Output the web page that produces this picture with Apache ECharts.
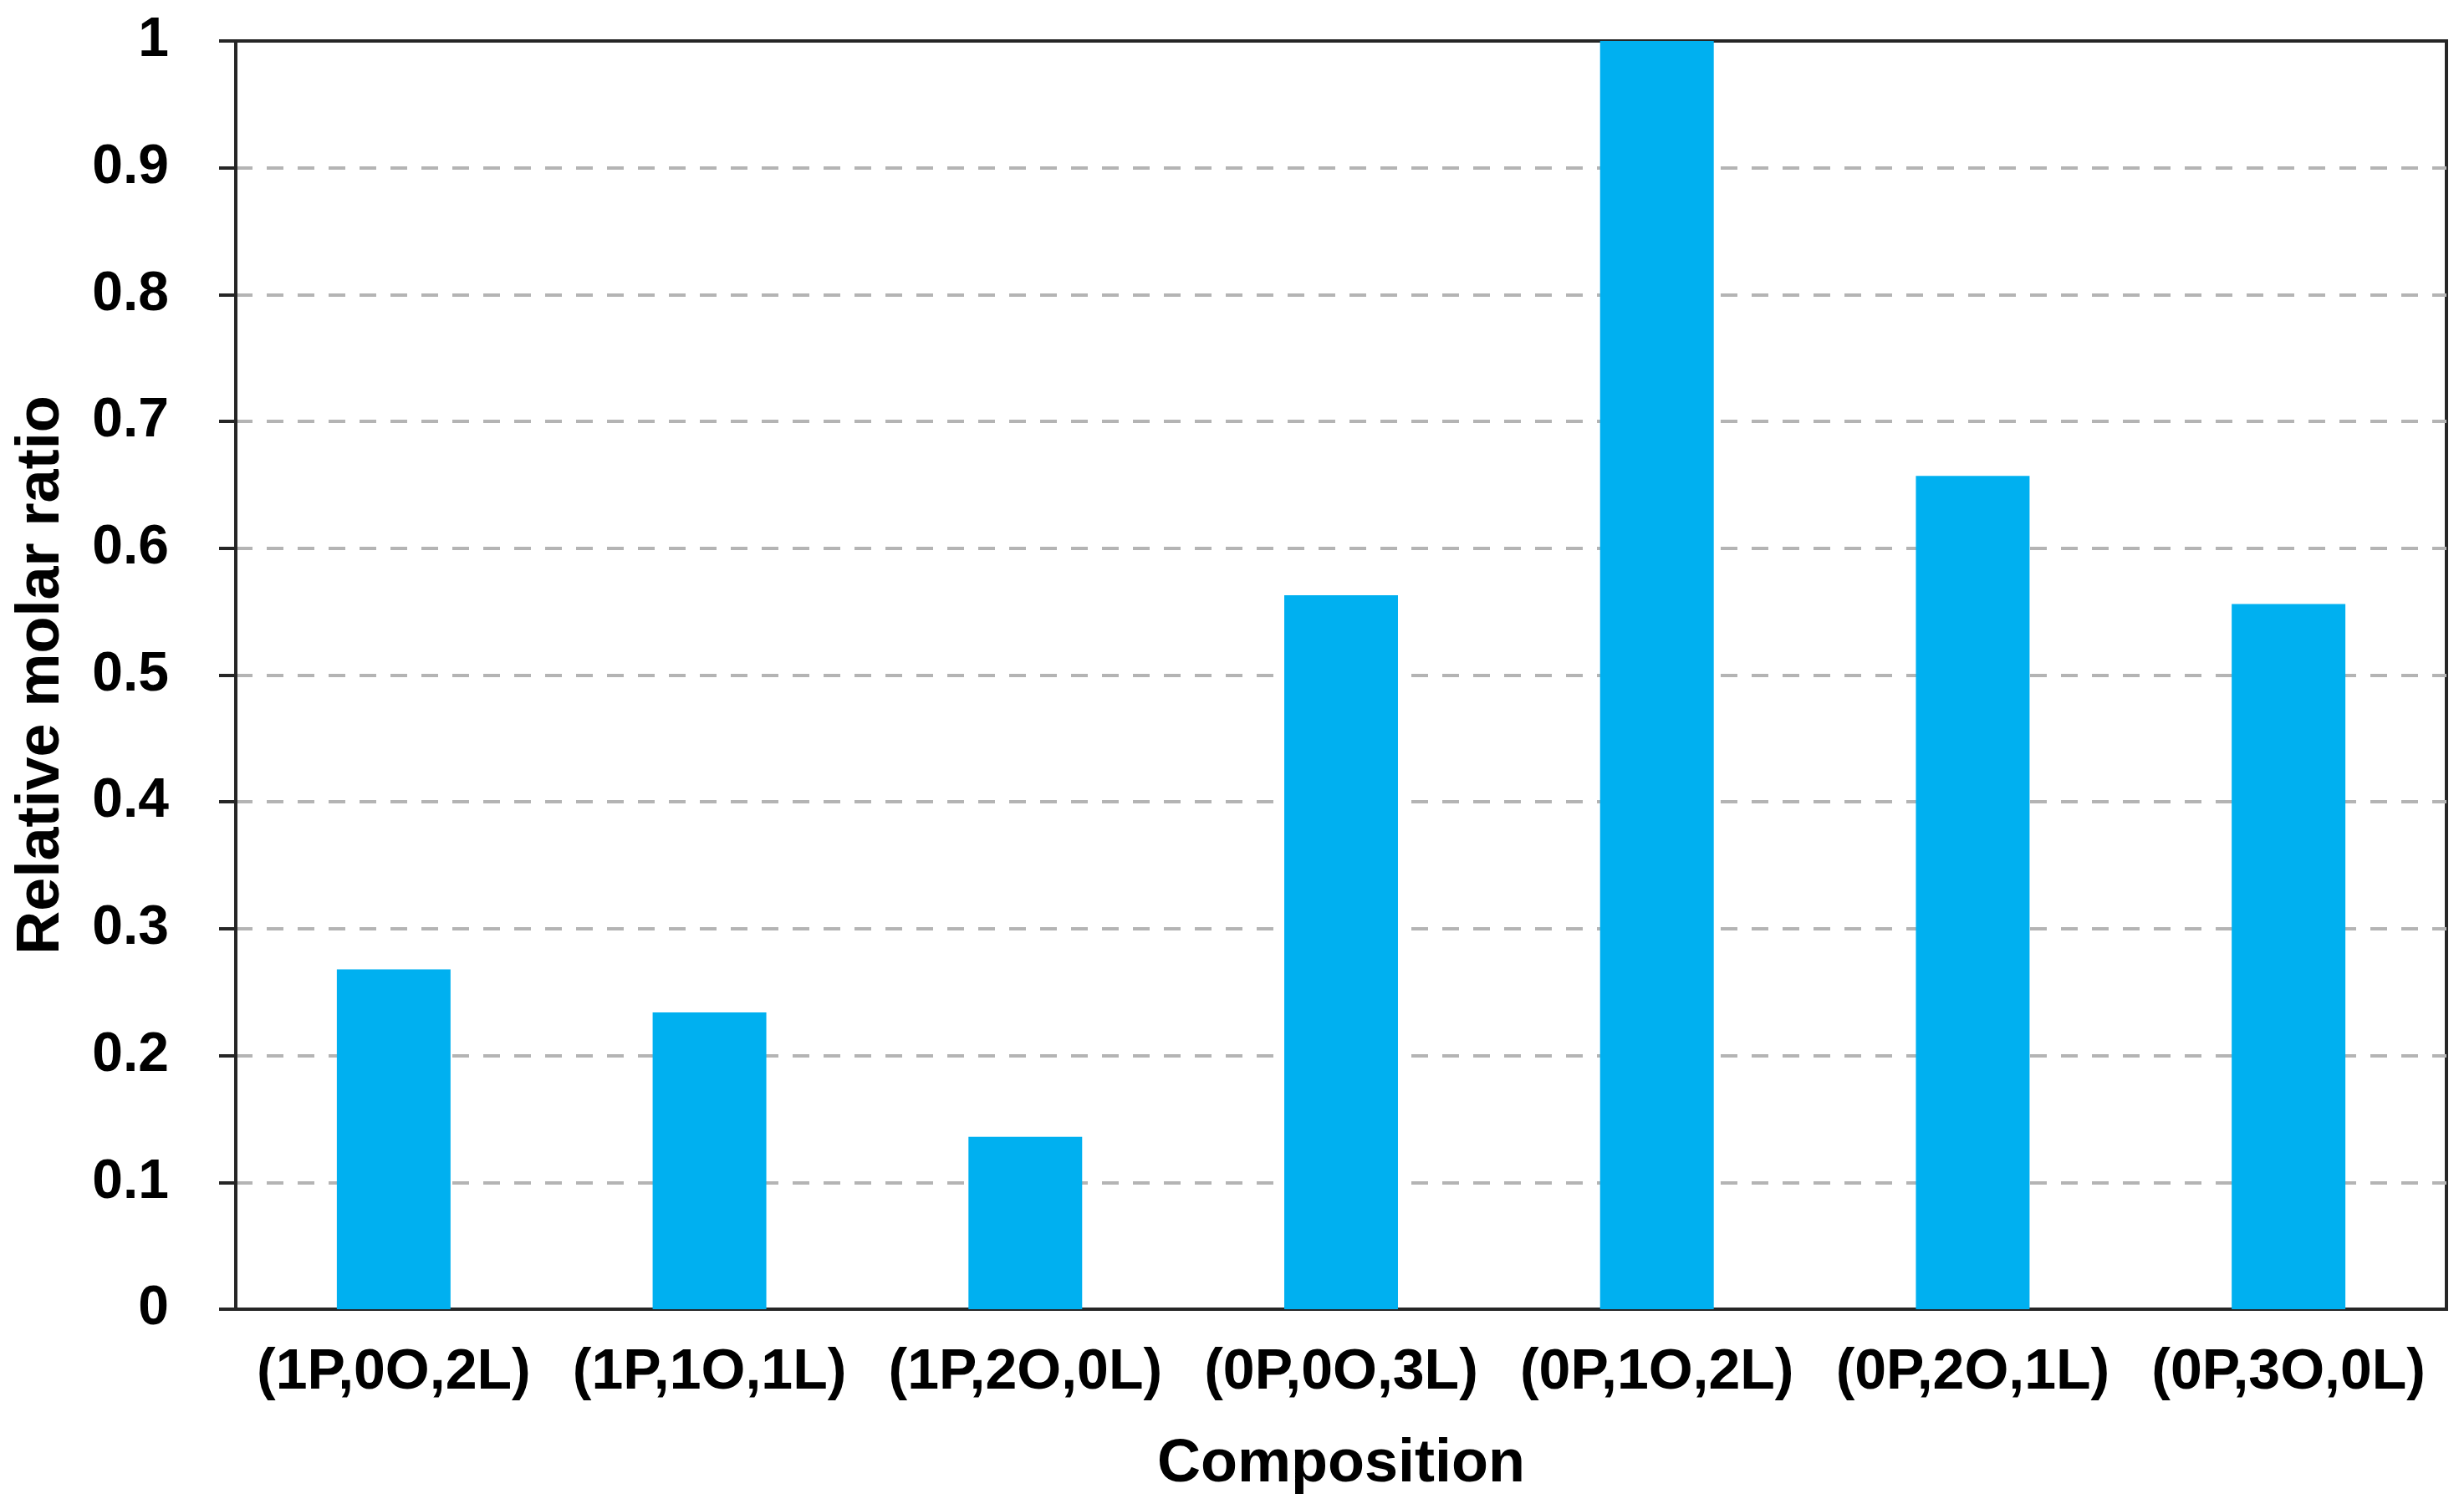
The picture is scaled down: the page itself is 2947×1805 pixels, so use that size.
<!DOCTYPE html>
<html>
<head>
<meta charset="utf-8">
<style>
  html, body { margin: 0; padding: 0; background: #fff; }
  #main { width: 2947px; height: 1805px; }
</style>
<script src="https://cdn.jsdelivr.net/npm/echarts@6/dist/echarts.min.js"></script>
</head>
<body>
<div id="main"></div>
<script>
// categories on the x axis
var categories = ['(1P,0O,2L)', '(1P,1O,1L)', '(1P,2O,0L)', '(0P,0O,3L)', '(0P,1O,2L)', '(0P,2O,1L)', '(0P,3O,0L)'];
// relative molar ratio
var ratios = [0.268, 0.234, 0.136, 0.563, 1.0, 0.657, 0.556];

var font = '"Liberation Sans", Arial, sans-serif';
var myChart = echarts.init(document.getElementById('main'));

var option = {
    backgroundColor: '#ffffff',
    animation: false,
    grid: {
        left: 282,
        right: 21,
        top: 49,
        bottom: 239,
        show: true,
        borderColor: '#262626',
        borderWidth: 4
    },
    xAxis: {
        type: 'category',
        data: categories,
        name: 'Composition',
        nameLocation: 'middle',
        nameGap: 150,
        nameTextStyle: { fontFamily: font, fontWeight: 'bold', fontSize: 72, color: '#000' },
        axisLine: { show: true, lineStyle: { color: '#262626', width: 4 } },
        axisTick: { show: false },
        axisLabel: {
            margin: 42,
            fontFamily: font,
            fontWeight: 'bold',
            fontSize: 68,
            color: '#000',
            interval: 0
        },
        splitLine: { show: false }
    },
    yAxis: {
        type: 'value',
        min: 0,
        max: 1,
        interval: 0.1,
        name: 'Relative molar ratio',
        nameLocation: 'middle',
        nameGap: 196,
        nameTextStyle: { fontFamily: font, fontWeight: 'bold', fontSize: 72, color: '#000' },
        axisLine: { show: true, lineStyle: { color: '#262626', width: 4 } },
        axisTick: { show: true, inside: false, length: 20, lineStyle: { color: '#262626', width: 4 } },
        axisLabel: {
            margin: 80,
            fontFamily: font,
            fontWeight: 'bold',
            fontSize: 66,
            color: '#000',
            formatter: function (v) { return String(Math.round(v * 10) / 10); }
        },
        splitLine: {
            show: true,
            showMinLine: false,
            showMaxLine: false,
            lineStyle: { color: '#b4b4b4', width: 4, type: [20, 17] }
        }
    },
    series: [{
        name: 'Relative molar ratio',
        type: 'bar', // 柱状图
        data: ratios,
        barWidth: '36%',
        itemStyle: { color: '#00b0f0' }
    }]
};
myChart.setOption(option);
</script>
</body>
</html>
